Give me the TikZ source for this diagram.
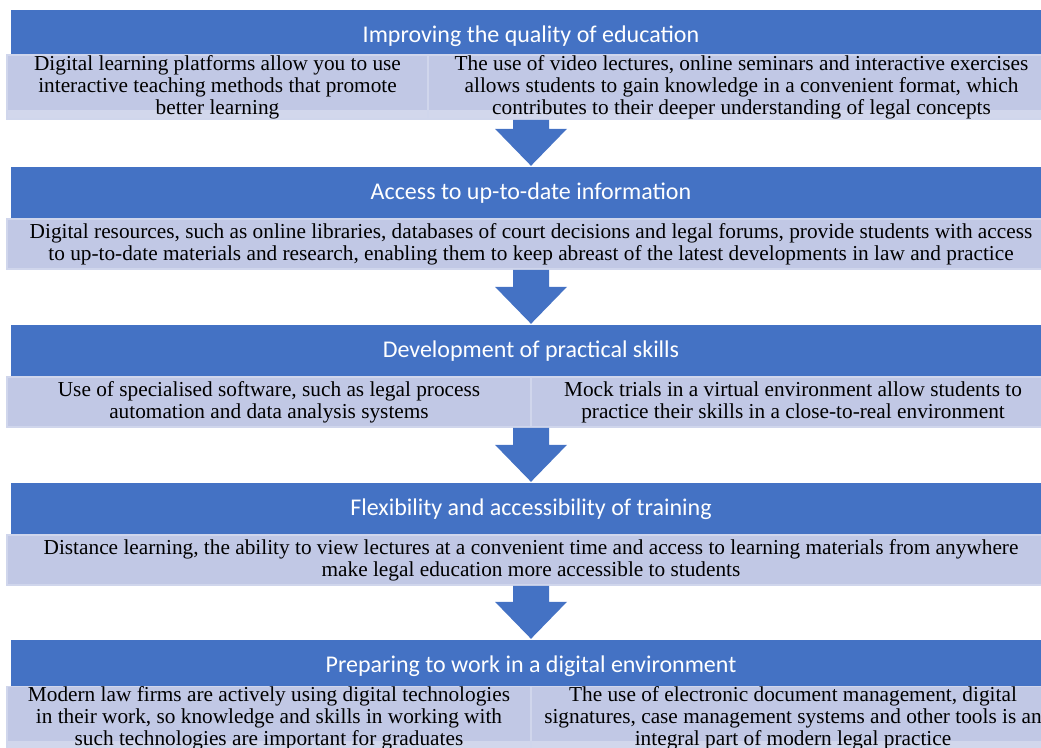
\documentclass[tikz,border=0pt]{standalone}
\usepackage{fontspec}
\setmainfont{Liberation Serif}
\newfontfamily\hfont{Carlito}
\usetikzlibrary{calc}
\definecolor{hblue}{RGB}{68,114,196}
\definecolor{boxdark}{RGB}{193,200,229}
\definecolor{boxlight}{RGB}{210,215,236}
\definecolor{boxedge}{RGB}{208,214,236}
\tikzset{
  header/.style={fill=hblue, draw=white, line width=0.4pt, text=white, minimum width=1042pt, font=\hfont\fontsize{24}{28}\selectfont, inner sep=0pt, text height=17pt, text depth=4pt},
  infobox/.style={fill=boxdark, draw=boxedge, line width=1.5pt, align=center, inner sep=0pt, font=\fontsize{21.3}{21.8}\selectfont, text=black},
  bandbox/.style={infobox, fill=boxlight, path picture={\fill[boxdark] (path picture bounding box.north west) rectangle ([yshift=9pt]path picture bounding box.south east);}},
}
\newcommand\blockarrow[2]{\fill[hblue] let \p1=(#1), \p2=(#2) in
  (\x2-18pt,\y1) -- (\x2+18pt,\y1) -- (\x2+18pt,\y2+37pt) -- (\x2+36pt,\y2+37pt) -- (\x2,\y2) -- (\x2-36pt,\y2+37pt) -- (\x2-18pt,\y2+37pt) -- cycle;}
\begin{document}
\begin{tikzpicture}[x=1pt,y=-1pt]
\useasboundingbox (0,0) rectangle (1041,747);
\clip (0,0) rectangle (1041,747);
% headers
\node[header, minimum height=46pt, text height=20pt, text depth=0pt] (h1) at (531,32) {Improving the quality of education};
\node[header, minimum height=53pt] (h2) at (531,192.5) {Access to up-to-date information};
\node[header, minimum height=53pt] (h3) at (531,350.5) {Development of practical skills};
\node[header, minimum height=53pt] (h4) at (531,508.5) {Flexibility and accessibility of training};
\node[header, minimum height=48pt, text height=18pt, text depth=0pt] (h5) at (531,663) {Preparing to work in a digital environment};
% boxes
\node[bandbox, minimum width=421pt, minimum height=64pt] (s1l) at (217.5,87) {Digital learning platforms allow you to use\\ interactive teaching methods that promote\\ better learning};
\node[bandbox, minimum width=627pt, minimum height=64pt] (s1r) at (741.5,87) {The use of video lectures, online seminars and interactive exercises\\ allows students to gain knowledge in a convenient format, which\\ contributes to their deeper understanding of legal concepts};
\node[infobox, minimum width=1048pt, minimum height=50pt] (s2) at (531,244) {Digital resources, such as online libraries, databases of court decisions and legal forums, provide students with access\\ to up-to-date materials and research, enabling them to keep abreast of the latest developments in law and practice};
\node[infobox, minimum width=524pt, minimum height=50pt] (s3l) at (269,402) {Use of specialised software, such as legal process\\ automation and data analysis systems};
\node[infobox, minimum width=524pt, minimum height=50pt] (s3r) at (793,402) {Mock trials in a virtual environment allow students to\\ practice their skills in a close-to-real environment};
\node[infobox, minimum width=1048pt, minimum height=50pt] (s4) at (531,560) {Distance learning, the ability to view lectures at a convenient time and access to learning materials from anywhere\\ make legal education more accessible to students};
\node[bandbox, minimum width=524pt, minimum height=62pt] (s5l) at (269,718) {Modern law firms are actively using digital technologies\\ in their work, so knowledge and skills in working with\\ such technologies are important for graduates};
\node[bandbox, minimum width=524pt, minimum height=62pt] (s5r) at (793,718) {The use of electronic document management, digital\\ signatures, case management systems and other tools is an\\ integral part of modern legal practice};
% arrows
\blockarrow{s1r.south}{h2.north}
\blockarrow{s2.south}{h3.north}
\blockarrow{s3r.south}{h4.north}
\blockarrow{s4.south}{h5.north}
\end{tikzpicture}
\end{document}
